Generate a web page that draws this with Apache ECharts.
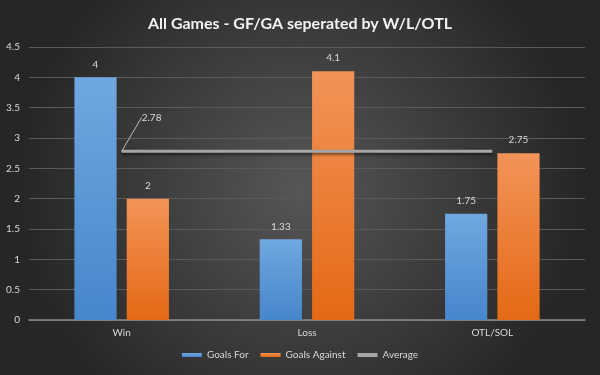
<!DOCTYPE html>
<html>
<head>
<meta charset="utf-8">
<script src="https://cdn.jsdelivr.net/npm/echarts@6/dist/echarts.min.js"></script>
<style>
  html, body { margin: 0; padding: 0; }
  #chart { width: 600px; height: 375px; }
</style>
</head>
<body>
<div id="chart"></div>
<script>
// chart data
const categories = ['Win', 'Loss', 'OTL/SOL']
const goalsFor = [4, 1.33, 1.75]
const goalsAgainst = [2, 4.1, 2.75]
const average = [2.78, 2.78, 2.78]

const textColor = '#d9d9d9'
const fontFamily = 'Lato, "Open Sans", sans-serif'

const chart = echarts.init(document.getElementById('chart'))

function vGrad (top, bottom) {
  return new echarts.graphic.LinearGradient(0, 0, 0, 1, [
    { offset: 0, color: top },
    { offset: 1, color: bottom }
  ])
}

chart.setOption({
  backgroundColor: new echarts.graphic.RadialGradient(0.5, 0.5, 0.75, [
    { offset: 0, color: '#565656' },
    { offset: 1, color: '#262626' }
  ]),
  textStyle: { fontFamily },
  title: {
    text: 'All Games - GF/GA seperated by W/L/OTL',
    left: 'center',
    top: 11,
    textStyle: {
      color: '#f2f2f2',
      fontSize: 16,
      fontWeight: 'bold',
      fontFamily
    }
  },
  legend: {
    bottom: 10,
    left: 'center',
    itemWidth: 20,
    itemHeight: 4,
    itemGap: 12,
    textStyle: { color: textColor, fontSize: 10, fontFamily },
    data: [
      { name: 'Goals For', icon: 'rect' },
      { name: 'Goals Against', icon: 'rect' },
      { name: 'Average', icon: 'rect', itemStyle: { color: '#a6a6a6' } }
    ]
  },
  grid: {
    left: 29,
    right: 15,
    top: 47,
    bottom: 55
  },
  xAxis: {
    type: 'category',
    data: categories,
    axisTick: { show: false },
    axisLine: { lineStyle: { color: '#8c8c8c', width: 1.5 } },
    axisLabel: { color: textColor, fontSize: 10, margin: 8 }
  },
  yAxis: {
    type: 'value',
    min: 0,
    max: 4.5,
    interval: 0.5,
    axisLine: { show: false },
    axisTick: { show: false },
    axisLabel: { color: textColor, fontSize: 10, margin: 9 },
    splitLine: { lineStyle: { color: '#5a5a5a', width: 1 } }
  },
  series: [
    {
      name: 'Goals For',
      type: 'bar',
      data: goalsFor,
      barGap: '24%',
      barCategoryGap: '49%',
      itemStyle: { color: vGrad('#70a8e0', '#4686cb') },
      label: { show: true, position: 'top', color: textColor, fontSize: 10, distance: 8 }
    },
    {
      name: 'Goals Against',
      type: 'bar',
      data: goalsAgainst,
      itemStyle: { color: vGrad('#f39358', '#e46915') },
      label: { show: true, position: 'top', color: textColor, fontSize: 10, distance: 8 }
    },
    {
      name: 'Average',
      type: 'line',
      // only the first point carries the callout label
      data: average.map((v, i) => ({ value: v, label: { show: i === 0 } })),
      symbol: 'circle',
      symbolSize: 0,
      showSymbol: true,
      color: '#a6a6a6',
      lineStyle: {
        color: '#a6a6a6',
        width: 3,
        shadowColor: 'rgba(0,0,0,0.55)',
        shadowBlur: 3,
        shadowOffsetY: 2
      },
      label: {
        position: 'right',
        color: textColor,
        fontSize: 10,
        distance: 2
      },
      labelLine: {
        show: true,
        lineStyle: { color: '#bfbfbf', width: 1 }
      },
      labelLayout: p => (p.dataIndex === 0 ? { dx: 18, dy: -34 } : {})
    }
  ]
})
</script>
</body>
</html>
